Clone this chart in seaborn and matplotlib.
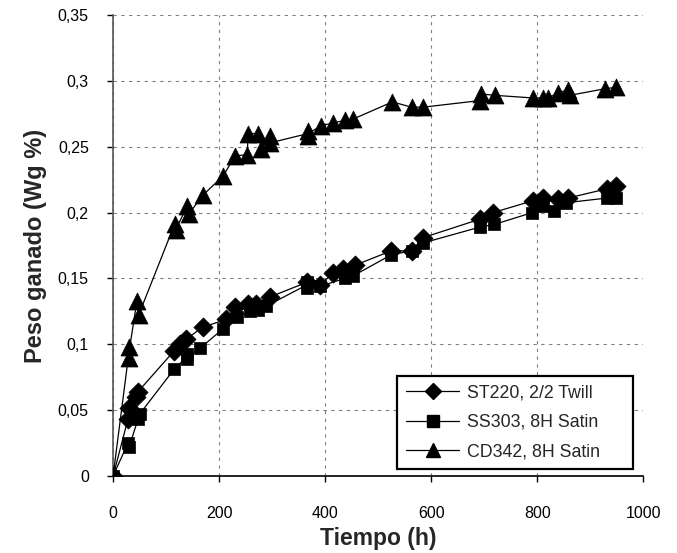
import matplotlib
matplotlib.use("Agg")
import matplotlib.pyplot as plt
from matplotlib.lines import Line2D
from matplotlib.ticker import FuncFormatter
import pandas as pd
import seaborn as sns

# ST220, 2/2 Twill (diamonds)
t_st220 = [0, 28, 31, 44, 47, 115, 126, 138, 169, 214, 230, 255, 270, 296,
           365, 390, 415, 434, 456, 525, 563, 585, 692, 717, 792, 811, 840,
           858, 931, 948]
w_st220 = [0, 0.043, 0.052, 0.060, 0.064, 0.095, 0.100, 0.104, 0.113, 0.119,
           0.128, 0.131, 0.131, 0.136, 0.147, 0.145, 0.154, 0.157, 0.160,
           0.171, 0.171, 0.181, 0.195, 0.200, 0.209, 0.211, 0.210, 0.211,
           0.218, 0.220]

# SS303, 8H Satin (squares)
t_ss303 = [0, 28, 30, 47, 50, 115, 140, 140, 164, 208, 233, 258, 274, 289,
           365, 365, 390, 437, 453, 525, 563, 585, 692, 719, 791, 811, 832,
           855, 931, 948]
w_ss303 = [0, 0.025, 0.022, 0.043, 0.047, 0.081, 0.089, 0.093, 0.097, 0.112,
           0.121, 0.125, 0.126, 0.129, 0.147, 0.143, 0.144, 0.150, 0.152,
           0.168, 0.171, 0.177, 0.189, 0.191, 0.200, 0.205, 0.201, 0.2075,
           0.211, 0.211]

# CD342, 8H Satin (triangles)
t_cd342 = [0, 30, 30, 45, 48, 116, 118, 140, 143, 169, 208, 230, 253, 255,
           274, 280, 296, 297, 368, 368, 393, 415, 437, 453, 527, 563, 585,
           692, 695, 720, 792, 811, 821, 840, 858, 862, 928, 948]
w_cd342 = [0, 0.098, 0.090, 0.133, 0.122, 0.191, 0.187, 0.205, 0.199, 0.213,
           0.228, 0.243, 0.244, 0.260, 0.260, 0.248, 0.258, 0.253, 0.262,
           0.258, 0.266, 0.268, 0.270, 0.271, 0.284, 0.280, 0.280, 0.285,
           0.290, 0.289, 0.287, 0.287, 0.287, 0.291, 0.293, 0.289, 0.294,
           0.295]

labels = ["ST220, 2/2 Twill", "SS303, 8H Satin", "CD342, 8H Satin"]
markers = {"ST220, 2/2 Twill": "D", "SS303, 8H Satin": "s", "CD342, 8H Satin": "^"}
msizes = {"ST220, 2/2 Twill": 95, "SS303, 8H Satin": 80, "CD342, 8H Satin": 150}

df = pd.concat([
    pd.DataFrame({"t": t_st220, "w": w_st220, "mat": labels[0]}),
    pd.DataFrame({"t": t_ss303, "w": w_ss303, "mat": labels[1]}),
    pd.DataFrame({"t": t_cd342, "w": w_cd342, "mat": labels[2]}),
])

sns.set_style("white")
plt.rcParams["font.family"] = ["Liberation Sans", "DejaVu Sans"]

fig = plt.figure(figsize=(6.77, 5.53), dpi=100)
ax = fig.add_axes([0.167, 0.139, 0.783, 0.834])

for lab in labels:
    sub = df[df["mat"] == lab]
    # line through the mean value at each time
    sns.lineplot(data=sub, x="t", y="w", errorbar=None, color="black",
                 linewidth=0.9, ax=ax, legend=False)
    sns.scatterplot(data=sub, x="t", y="w", marker=markers[lab], s=msizes[lab],
                    color="black", edgecolor="black", linewidth=0.5, ax=ax,
                    legend=False, zorder=3)

ax.set_xlim(0, 1000)
ax.set_ylim(0, 0.35)
ax.set_xticks(range(0, 1001, 200))
ax.set_yticks([0, 0.05, 0.1, 0.15, 0.2, 0.25, 0.3, 0.35])
ax.yaxis.set_major_formatter(FuncFormatter(lambda v, p: "{:g}".format(round(v, 3)).replace(".", ",")))

ax.grid(True, color="#808080", linestyle=(0, (3, 4)), linewidth=0.8)
ax.set_axisbelow(True)
for s in ["top", "right"]:
    ax.spines[s].set_visible(False)
ax.spines["left"].set_color("#555555")
ax.spines["bottom"].set_color("black")
ax.spines["left"].set_linewidth(1.2)
ax.spines["bottom"].set_linewidth(1.2)

ax.tick_params(axis="both", direction="out", length=4.5, width=1, colors="black",
               labelsize=11.5, left=True, bottom=True)
ax.tick_params(axis="y", pad=13)
ax.tick_params(axis="x", pad=17)

ax.set_xlabel("Tiempo (h)", fontsize=16.5, fontweight="bold", labelpad=4)
ax.set_ylabel("Peso ganado (Wg %)", fontsize=17, fontweight="bold", labelpad=8)

handles = [Line2D([0], [0], color="black", linewidth=0.9, marker=markers[l],
                  markersize={"D": 8, "s": 8, "^": 10}[markers[l]],
                  markerfacecolor="black", markeredgecolor="black")
           for l in labels]
leg = ax.legend(handles, labels, loc="lower left",
                bbox_to_anchor=(0.536, 0.015, 0.445, 0.21), mode="expand",
                frameon=True, fancybox=False, fontsize=12.8, handlelength=3.0,
                borderpad=0.5, labelspacing=0.7, handletextpad=0.45,
                borderaxespad=0)
leg.get_frame().set_edgecolor("black")
leg.get_frame().set_linewidth(1.6)
leg.get_frame().set_facecolor("white")
leg.get_frame().set_alpha(1)

fig.savefig("out.png", dpi=100)
